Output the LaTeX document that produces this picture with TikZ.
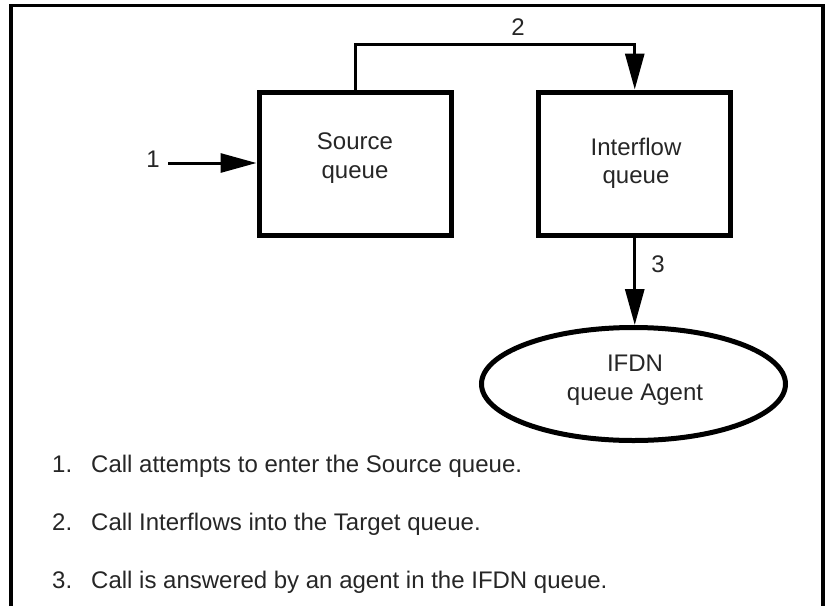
\documentclass[tikz,border=0pt]{standalone}
\usepackage{fontspec}
\setmainfont{Liberation Sans}
\usetikzlibrary{arrows.meta,shapes.geometric}
\begin{document}
\begin{tikzpicture}[x=1pt,y=-1pt,
  box/.style={draw, line width=5pt, minimum width=192pt, minimum height=143.5pt, inner sep=0pt},
  oval/.style={draw, ellipse, line width=5pt, minimum width=304pt, minimum height=113pt, inner sep=0pt},
  txt/.style={font=\fontsize{24}{29}\selectfont, text=black!85, inner sep=0pt, anchor=base},
  lst/.style={font=\fontsize{24}{29}\selectfont, text=black!85, inner sep=0pt, anchor=base west},
  arr/.style={line width=3pt, -{Triangle[length=36pt,width=19pt]}},
  frameline/.style={line width=3.5pt}]
\useasboundingbox (0,0) rectangle (828,606);
% outer frame (open at the bottom)
\draw[frameline] (11,606) -- (11,5.5) -- (823,5.5) -- (823,606);
% shapes
\node[box] (src) at (355,163.75) {};
\node[box] (itf) at (634.75,163.75) {};
\node[oval] (ifdn) at (633.5,384) {};
% texts in shapes
\node[txt] (srcA) at (355,149) {Source};
\node[txt] (srcB) at (355,178) {queue};
\node[txt] (itfA) at (636,155) {Interflow};
\node[txt] (itfB) at (636,183) {queue};
\node[txt] (ifdnA) at (635,371) {IFDN};
\node[txt] (ifdnB) at (635,400) {queue Agent};
% connectors
\coordinate (in1) at (168,163);
\coordinate (top2) at (500,44);
\draw[arr] (in1) -- (src.west |- in1);
\draw[arr] (src.north) |- (top2) -| (itf.north);
\draw[arr] (itf.south) -- (itf.south |- ifdn.north);
% connector labels
\node[txt] (l1) at (153,167) {1};
\node[txt] (l2) at (518,35) {2};
\node[txt] (l3) at (658,272) {3};
% legend
\node[lst] (n1) at (52,472) {1.};
\node[lst] (t1) at (91,472) {Call attempts to enter the Source queue.};
\node[lst] (n2) at (52,530) {2.};
\node[lst] (t2) at (91,530) {Call Interflows into the Target queue.};
\node[lst] (n3) at (52,588) {3.};
\node[lst] (t3) at (91,588) {Call is answered by an agent in the IFDN queue.};
\end{tikzpicture}
\end{document}
